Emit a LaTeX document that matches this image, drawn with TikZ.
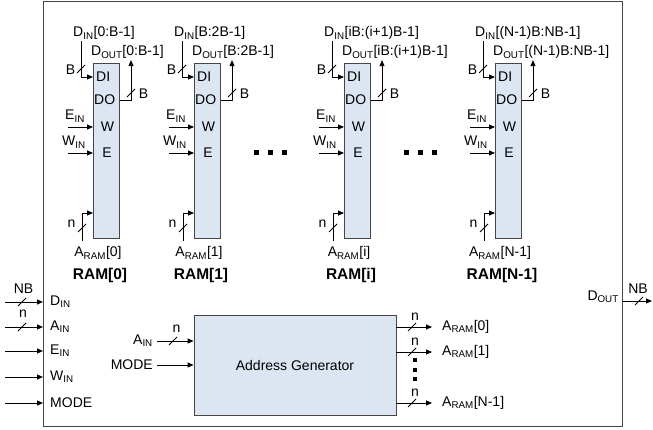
\documentclass[tikz,border=0pt]{standalone}
\usepackage{fontspec}
\setmainfont{Liberation Sans}
\usetikzlibrary{arrows.meta}
\definecolor{ramfill}{RGB}{220,230,242}
\definecolor{edge}{RGB}{70,70,70}
\newcommand{\lo}[1]{\textsubscript{#1}}

\begin{document}
\begin{tikzpicture}[
    x=1pt, y=-1pt,
    every node/.style={font=\fontsize{14pt}{16pt}\selectfont, inner sep=1pt},
    ram/.style={draw=edge, fill=ramfill, line width=0.8pt, minimum width=26pt, minimum height=175pt, inner sep=0pt, anchor=north west},
    agen/.style={draw=edge, fill=ramfill, line width=0.8pt, minimum width=202pt, minimum height=100pt},
    title/.style={font=\fontsize{15.5pt}{18pt}\selectfont\bfseries},
    sig/.style={-{Triangle[length=6pt,width=5pt]}, line width=0.8pt},
    dot/.style={fill, minimum size=5pt, inner sep=0pt},
    buswidth/.pic={\draw[line width=0.8pt] (-4,4) -- (4,-4);}
]
\useasboundingbox (0,0) rectangle (653,430);
\node[draw=edge, line width=0.8pt, minimum width=579pt, minimum height=424pt, inner sep=0pt, anchor=north west] (sys) at (43,1.5) {};

% RAM blocks
\foreach \x/\n/\r/\k in {93/0/{0:B-1}/0, 194/1/{B:2B-1}/1, 344/i/{iB:(i+1)B-1}/i, 495/N/{(N-1)B:NB-1}/N-1} {
    \node[ram] (ram\n) at (\x,63) {};
    \node[anchor=west, inner xsep=3pt] (di\n) at (\x,77) {DI};
    \node[anchor=west] (do\n) at (\x,100) {DO};
    \node (w\n) at (\x+14.5,127) {W};
    \node (e\n) at (\x+14,153) {E};
    \coordinate (adr\n) at (\x,213);
    \node[anchor=base west] (din\n) at (\x-21,37) {D\lo{IN}[\r]};
    \node[anchor=base west] (dout\n) at (\x-3,56) {D\lo{OUT}[\r]};
    \node[anchor=base west] (ein\n) at (\x-29,120) {E\lo{IN}};
    \node[anchor=base west] (win\n) at (\x-32,146) {W\lo{IN}};
    \node[anchor=base] (aram\n) at (\x+5,257) {A\lo{RAM}[\k]};
    \node[title] (lbl\n) at (\x+7,275) {RAM[\k]};
    \coordinate (av\n) at (\x-11,241);
    % connectors
    \draw[sig] ([xshift=9pt]din\n.south west) |- (di\n.west);
    \draw[sig] (ram\n.east |- do\n) -| ([xshift=41pt]dout\n.south west);
    \draw[sig] ([xshift=4pt]ein\n.west |- w\n) -- (ram\n.west |- w\n);
    \draw[sig] ([xshift=7pt]win\n.west |- e\n) -- (ram\n.west |- e\n);
    \draw[sig] (av\n) |- (adr\n);
    % bus widths
    \pic at (\x-12,69) {buswidth};
    \node (bi\n) at (\x-22.5,70) {B};
    \pic at (\x+38,93) {buswidth};
    \node (bo\n) at (\x+50.5,94) {B};
    \pic at (\x-11,228) {buswidth};
    \node (na\n) at (\x-21.5,224) {n};
}

% dots between blocks
\foreach \c in {256,270,284,406,420,434}
    \node[dot] (dot\c) at (\c,153) {};

% top-level inputs
\foreach \y/\n/\t in {302/din/D\lo{IN}, 327/ain/A\lo{IN}, 351/ein/E\lo{IN}, 377/win/W\lo{IN}, 403/mode/MODE} {
    \coordinate (src\n) at (5,\y);
    \node[anchor=west] (in\n) at (49,\y) {\t};
    \draw[sig] (src\n) -- (sys.west |- in\n);
}
\pic at (22,302) {buswidth};
\node (nbin) at (23.5,289) {NB};
\pic at (22,327) {buswidth};
\node (nain) at (23,314) {n};

% address generator
\node[agen] (gen) at (295,365) {Address Generator};
\node[anchor=east, inner xsep=4pt] (gain) at (157,341) {A\lo{IN}};
\node[anchor=east, inner xsep=4pt] (gmode) at (157,365) {MODE};
\draw[sig] (gain.east) -- (gen.west |- gain);
\draw[sig] (gmode.east) -- (gen.west |- gmode);
\pic at (173,341) {buswidth};
\node (ngain) at (176.5,329) {n};

\foreach \y/\n/\k in {327/0/0, 352/1/1, 403/n/N-1} {
    \node[anchor=west] (gout\n) at (441,\y) {A\lo{RAM}[\k]};
    \draw[sig] (gen.east |- gout\n) -- ([xshift=-9pt]gout\n.west);
    \pic at (412,\y) {buswidth};
    \node (ngout\n) at (415,\y-10) {n};
}
\foreach \c in {360,370,379}
    \node[dot, minimum size=4pt] (vdot\c) at (415,\c) {};

% top-level output
\node[anchor=east] (gdout) at (620,297) {D\lo{OUT}};
\coordinate (dst) at (652,301);
\draw[sig] (sys.east |- dst) -- (dst);
\pic at (639,301) {buswidth};
\node (nbout) at (638,289) {NB};
\end{tikzpicture}
\end{document}
